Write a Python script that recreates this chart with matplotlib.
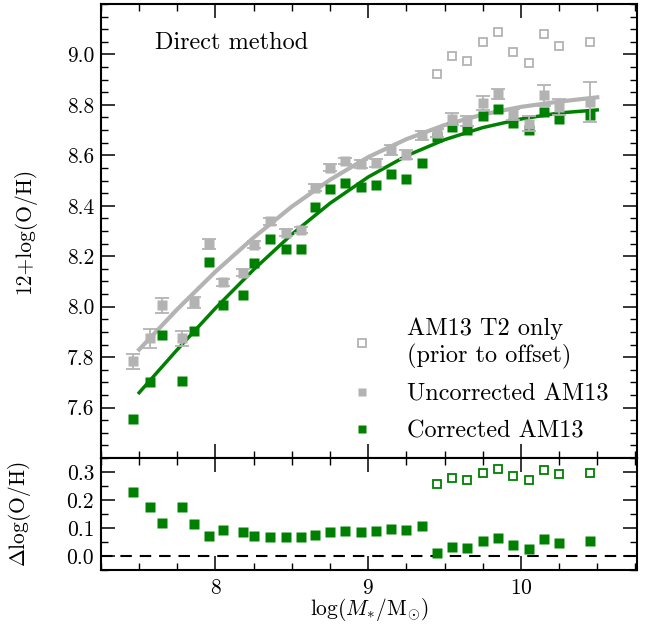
import numpy as np
import matplotlib
matplotlib.use('Agg')
import matplotlib.pyplot as plt
from matplotlib.ticker import MultipleLocator, FixedLocator, FormatStrFormatter

# ----------------------------------------------------------------------------------------------------------------------
# data
log_mass = [7.46, 7.57, 7.65, 7.78, 7.86, 7.96, 8.05, 8.18, 8.25, 8.36, 8.46, 8.56, 8.65, 8.75, 8.85,
            8.95, 9.05, 9.15, 9.25, 9.35, 9.45, 9.55, 9.65, 9.75, 9.85, 9.95, 10.05, 10.15, 10.25, 10.45]
oh_corrected = [7.553, 7.701, 7.886, 7.704, 7.902, 8.178, 8.006, 8.048, 8.175, 8.270, 8.228, 8.230, 8.397, 8.468,
                8.490, 8.476, 8.484, 8.525, 8.508, 8.571, 8.673, 8.712, 8.702, 8.754, 8.782, 8.729, 8.699, 8.771,
                8.743, 8.758]
oh_uncorrected = [7.783, 7.874, 8.005, 7.874, 8.017, 8.250, 8.096, 8.135, 8.246, 8.339, 8.294, 8.303, 8.471, 8.551,
                  8.579, 8.567, 8.571, 8.620, 8.603, 8.679, 8.688, 8.745, 8.736, 8.807, 8.844, 8.762, 8.725, 8.838,
                  8.791, 8.811]
oh_uncorrected_err = [0.030, 0.039, 0.029, 0.030, 0.021, 0.020, 0.013, 0.013, 0.015, 0.014, 0.013, 0.012, 0.014,
                      0.013, 0.012, 0.016, 0.016, 0.019, 0.019, 0.017, 0.016, 0.023, 0.021, 0.028, 0.020, 0.020,
                      0.030, 0.041, 0.032, 0.080]

log_mass_t2 = [9.45, 9.55, 9.65, 9.75, 9.85, 9.95, 10.05, 10.15, 10.25, 10.45]
oh_t2_only = [8.921, 8.992, 8.975, 9.050, 9.087, 9.011, 8.967, 9.080, 9.033, 9.051]

delta_corrected = [0.228, 0.175, 0.119, 0.175, 0.114, 0.072, 0.093, 0.086, 0.072, 0.069, 0.069, 0.069, 0.074,
                   0.087, 0.090, 0.086, 0.090, 0.097, 0.093, 0.107, 0.012, 0.033, 0.030, 0.052, 0.065, 0.040,
                   0.026, 0.061, 0.047, 0.052]
delta_t2_only = [0.258, 0.277, 0.272, 0.296, 0.309, 0.285, 0.271, 0.307, 0.292, 0.296]

fit_mass = [7.5, 7.75, 8.0, 8.25, 8.5, 8.75, 9.0, 9.25, 9.5, 9.75, 10.0, 10.25, 10.5]
fit_uncorrected = [7.830, 7.990, 8.139, 8.274, 8.397, 8.503, 8.593, 8.664, 8.720, 8.762, 8.792, 8.813, 8.830]
fit_corrected = [7.659, 7.830, 7.994, 8.147, 8.287, 8.410, 8.514, 8.598, 8.662, 8.710, 8.744, 8.768, 8.780]

oh_ticks = [7.6, 7.8, 8.0, 8.2, 8.4, 8.6, 8.8, 9.0]
delta_ticks = [0.0, 0.1, 0.2, 0.3]
# ----------------------------------------------------------------------------------------------------------------------

# ----------------------------------------------------------------------------------------------------------------------
# style
plt.rcParams['font.family'] = 'serif'
plt.rcParams['font.serif'] = ['cmr10', 'DejaVu Serif']
plt.rcParams['mathtext.fontset'] = 'cm'
plt.rcParams['axes.formatter.use_mathtext'] = True
plt.rcParams['axes.unicode_minus'] = False

col_green = '#008000'
col_gray = '#b3b3b3'
tick_size = 15.5
label_size = 15.5
text_size = 17.5
# ----------------------------------------------------------------------------------------------------------------------


def style_axis(ax):
    ax.tick_params(which='both', direction='in', top=True, right=True, labelsize=tick_size)
    ax.tick_params(which='major', length=10, width=1.1, pad=5)
    ax.tick_params(which='minor', length=5, width=1.0)
    for spine in ax.spines.values():
        spine.set_linewidth(1.5)


fig = plt.figure(figsize=(6.46, 6.24), dpi=100)
ax_main = fig.add_axes([0.1563, 0.2660, 0.8297, 0.7276])
ax_diff = fig.add_axes([0.1563, 0.0865, 0.8297, 0.1795], sharex=ax_main)

# main panel
ax_main.plot(fit_mass, fit_uncorrected, color=col_gray, lw=3.0, zorder=2)
ax_main.plot(fit_mass, fit_corrected, color=col_green, lw=2.5, zorder=2)
h_t2, = ax_main.plot(log_mass_t2, oh_t2_only, ls='none', marker='s', ms=6.3, mfc='none', mec=col_gray, mew=1.3,
                     zorder=3)
h_corr, = ax_main.plot(log_mass, oh_corrected, ls='none', marker='s', ms=7.2, color=col_green, mec='none', zorder=3)
eb = ax_main.errorbar(log_mass, oh_uncorrected, yerr=oh_uncorrected_err, fmt='s', ms=6.8, color=col_gray, mec='none',
                      ecolor=col_gray, elinewidth=1.3, capsize=5, capthick=1.3, zorder=4)
h_uncorr = eb.lines[0]

ax_main.set_xlim(7.25, 10.76)
ax_main.set_ylim(7.4, 9.2)
ax_main.yaxis.set_major_locator(FixedLocator(oh_ticks))
ax_main.yaxis.set_minor_locator(MultipleLocator(0.05))
ax_main.xaxis.set_major_locator(MultipleLocator(1))
ax_main.xaxis.set_minor_locator(MultipleLocator(0.25))
ax_main.yaxis.set_major_formatter(FormatStrFormatter('%.1f'))
style_axis(ax_main)
ax_main.tick_params(labelbottom=False)
ax_main.set_ylabel('12+log(O/H)', fontsize=label_size)
ax_main.yaxis.set_label_coords(-0.12, 0.5)

ax_main.text(0.101, 0.914, 'Direct method', transform=ax_main.transAxes, fontsize=text_size, va='center', ha='left')

ax_main.legend([h_t2, h_uncorr, h_corr], ['AM13 T2 only\n(prior to offset)', 'Uncorrected AM13', 'Corrected AM13'],
               loc='lower left', bbox_to_anchor=(0.441, 0.035), borderaxespad=0, borderpad=0, frameon=False,
               numpoints=1, fontsize=text_size, handlelength=2.0, handletextpad=0.87, labelspacing=0.6,
               markerscale=0.85)

# difference panel
ax_diff.axhline(0.0, color='k', lw=1.5, ls=(0, (5.5, 3.8)), zorder=1)
ax_diff.plot(log_mass, delta_corrected, ls='none', marker='s', ms=7.0, color=col_green, mec='none', zorder=3)
ax_diff.plot(log_mass_t2, delta_t2_only, ls='none', marker='s', ms=6.3, mfc='none', mec=col_green, mew=1.3,
             zorder=3)
ax_diff.set_ylim(-0.05, 0.35)
ax_diff.yaxis.set_major_locator(FixedLocator(delta_ticks))
ax_diff.yaxis.set_minor_locator(MultipleLocator(0.05))
ax_diff.yaxis.set_major_formatter(FormatStrFormatter('%.1f'))
style_axis(ax_diff)
ax_diff.tick_params(axis='x', which='major', pad=6)
ax_diff.set_ylabel(r'$\Delta$log(O/H)', fontsize=label_size)
ax_diff.yaxis.set_label_coords(-0.127, 0.5)
ax_diff.set_xlabel(r'log$(M_{*}/\mathrm{M}_{\odot})$', fontsize=label_size, labelpad=-1)

fig.savefig('out.png', dpi=100)
